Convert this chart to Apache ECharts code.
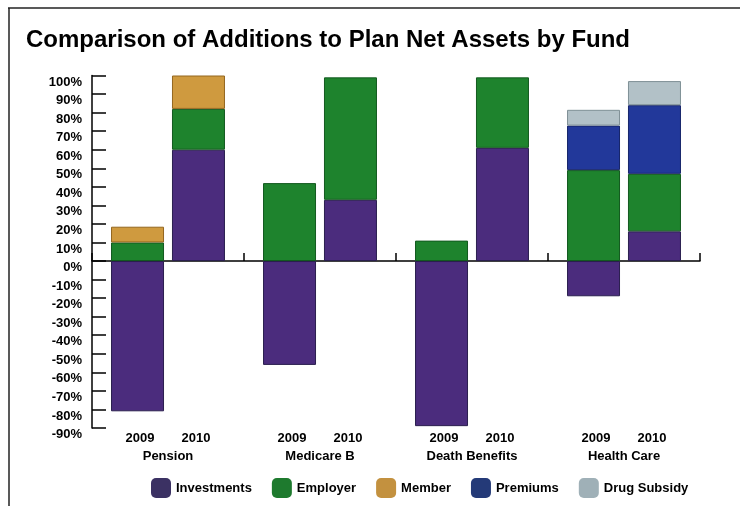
<!DOCTYPE html>
<html>
<head>
<meta charset="utf-8">
<title>Comparison of Additions to Plan Net Assets by Fund</title>
<script src="https://cdn.jsdelivr.net/npm/echarts@6/dist/echarts.min.js"></script>
<style>
  html, body { margin: 0; padding: 0; background: #fff; }
  #chart { width: 740px; height: 506px; }
</style>
</head>
<body>
<div id="chart"></div>
<script>
// Funds (x categories) and the two fiscal years shown side by side in each fund
const funds = ['Pension', 'Medicare B', 'Death Benefits', 'Health Care'];
const years = ['2009', '2010'];

// Share of additions to plan net assets, percent, per fund
const investments2009 = [-81, -56, -89, -19];
const investments2010 = [60, 33, 61, 16];
const employer2009 = [10, 42, 11, 49];
const employer2010 = [22, 66, 38, 31];
const member2009 = [8.5, null, null, null];
const member2010 = [18, null, null, null];
const premiums2009 = [null, null, null, 24];
const premiums2010 = [null, null, null, 37];
const drugSubsidy2009 = [null, null, null, 8.5];
const drugSubsidy2010 = [null, null, null, 13];

// Value axis range and step (percent)
const yMin = -90;
const yMax = 100;
const yStep = 10;

const sources = ['Investments', 'Employer', 'Member', 'Premiums', 'Drug Subsidy'];
const valuesByYear = {
  '2009': [investments2009, employer2009, member2009, premiums2009, drugSubsidy2009],
  '2010': [investments2010, employer2010, member2010, premiums2010, drugSubsidy2010]
};

const fills = ['#4b2c7d', '#1e832d', '#cf9a3f', '#22389a', '#b2c1c7'];
const edges = ['#2a1f4f', '#135a1f', '#94661f', '#16256a', '#7f9096'];
const legendFills = ['#3b3163', '#1e7a2e', '#c3913f', '#243a78', '#9fb0b7'];

const font = 'Liberation Sans, Arial, Helvetica, sans-serif';

const series = [];
years.forEach(function (yr) {
  sources.forEach(function (name, i) {
    series.push({
      name: name,
      type: 'bar',
      stack: 'y' + yr,
      xAxisIndex: 0,
      barWidth: 53,
      barGap: '15%',
      itemStyle: { color: fills[i], borderColor: edges[i], borderWidth: 1 },
      emphasis: { disabled: true },
      data: valuesByYear[yr][i]
    });
  });
});

const chart = echarts.init(document.getElementById('chart'), null, { renderer: 'canvas' });
chart.setOption({
  animation: false,
  backgroundColor: '#fff',
  color: fills,
  title: {
    text: 'Comparison of Additions to Plan Net Assets by Fund',
    left: 21,
    top: 23,
    textStyle: { fontFamily: font, fontSize: 24, fontWeight: 'bold', color: '#000' }
  },
  graphic: [
    { type: 'line', shape: { x1: 8, y1: 8, x2: 740, y2: 8 }, style: { stroke: '#222', lineWidth: 1.5 } },
    { type: 'line', shape: { x1: 9, y1: 8, x2: 9, y2: 506 }, style: { stroke: '#222', lineWidth: 1.5 } }
  ],
  legend: {
    data: sources.map(function (name, i) {
      return { name: name, itemStyle: { color: legendFills[i], borderWidth: 0 } };
    }),
    left: 146,
    top: 473,
    itemWidth: 20,
    itemHeight: 20,
    itemGap: 20,
    selectedMode: false,
    icon: 'roundRect',
    textStyle: { fontFamily: font, fontSize: 13, fontWeight: 'bold', color: '#000' }
  },
  grid: { left: 92, right: 40, top: 75.5, bottom: 78, containLabel: false },
  xAxis: [
    {
      type: 'category',
      data: funds,
      position: 'bottom',
      axisLine: { onZero: true, lineStyle: { color: '#000', width: 1.5 } },
      axisTick: { show: true, inside: true, length: 8, lineStyle: { color: '#000', width: 1.5 } },
      axisLabel: { show: false },
      splitLine: { show: false }
    },
    {
      type: 'category',
      data: funds,
      position: 'bottom',
      axisLine: { show: false, onZero: false },
      axisTick: { show: false },
      splitLine: { show: false },
      axisLabel: {
        interval: 0,
        margin: 1,
        formatter: function (name) {
          return '{y|' + years[0] + '}{y|' + years[1] + '}\n{f|' + name + '}';
        },
        rich: {
          y: { width: 56, align: 'center', fontFamily: font, fontSize: 13, fontWeight: 'bold', color: '#000', lineHeight: 18 },
          f: { align: 'center', fontFamily: font, fontSize: 13, fontWeight: 'bold', color: '#000', lineHeight: 18 }
        }
      }
    }
  ],
  yAxis: {
    type: 'value',
    min: yMin,
    max: yMax,
    interval: yStep,
    axisLine: { show: true, lineStyle: { color: '#000', width: 1.5 } },
    axisTick: { show: true, inside: true, length: 14, lineStyle: { color: '#000', width: 1.5 } },
    splitLine: { show: false },
    axisLabel: {
      formatter: '{value}%',
      margin: 10,
      verticalAlign: 'top',
      lineHeight: 13,
      fontFamily: font,
      fontSize: 13,
      fontWeight: 'bold',
      color: '#000'
    }
  },
  series: series
});
</script>
</body>
</html>
